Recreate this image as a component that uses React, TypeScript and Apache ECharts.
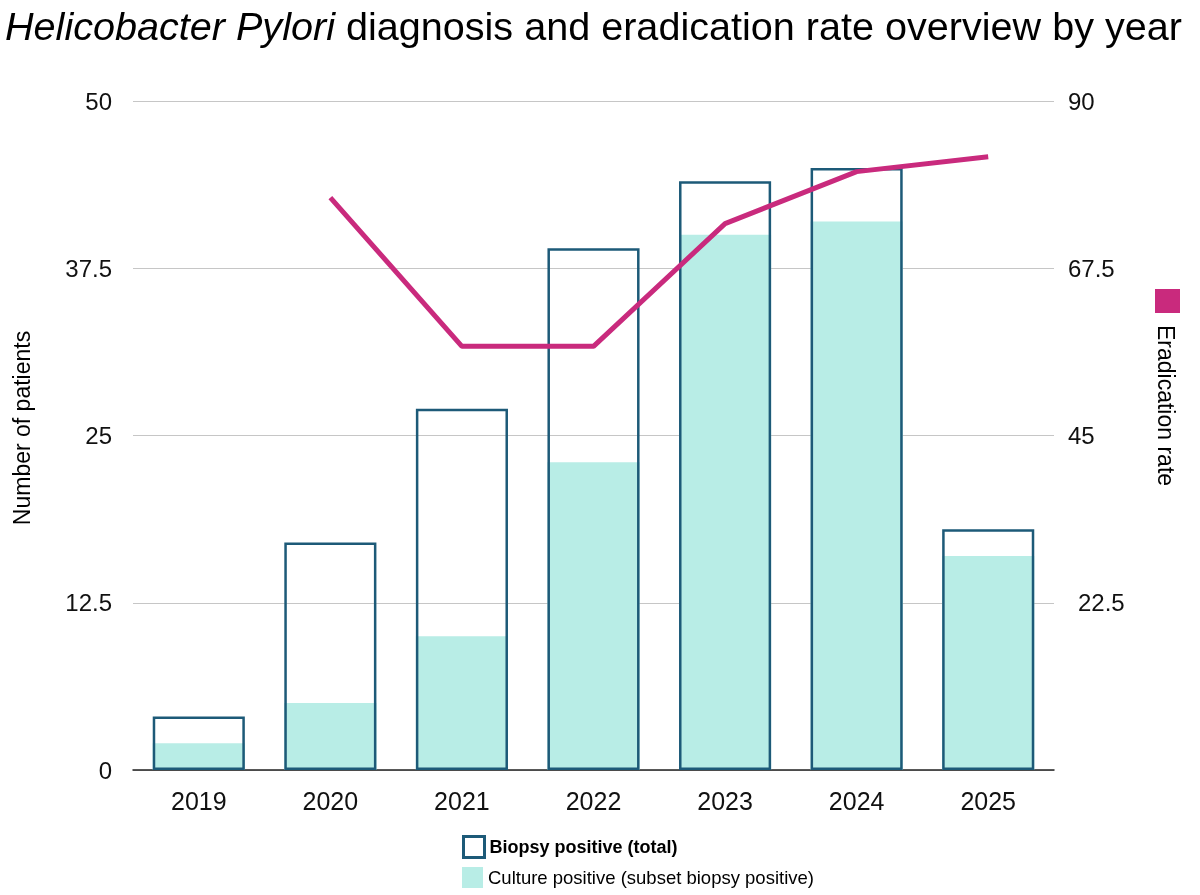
import React, { useEffect, useRef } from "react";
import * as echarts from "echarts";

const years = ["2019", "2020", "2021", "2022", "2023", "2024", "2025"];
const biopsyPositive = [4, 17, 27, 39, 44, 45, 18];
const culturePositive = [2, 5, 10, 23, 40, 41, 16];
const eradicationRate = [null, 77, 57, 57, 73.5, 80.5, 82.5];
const leftTicks = { min: 0, max: 50, interval: 12.5 };
const rightTicks = { min: 0, max: 90, interval: 22.5 };

const FONT = "Liberation Sans";
const TEAL = "#1d5a78";
const FILL = "#b8ede6";
const PINK = "#c92a7d";

export default function App() {
  const ref = useRef<HTMLDivElement>(null);
  useEffect(() => {
    if (!ref.current) return;
    const chart = echarts.init(ref.current, null, { renderer: "svg" });
    chart.setOption({
      animation: false,
      textStyle: { fontFamily: FONT },
      title: {
        text: "{i|Helicobacter Pylori} diagnosis and eradication rate overview by year",
        left: 0,
        top: 1,
        textStyle: {
          fontFamily: FONT,
          fontSize: 39.6,
          fontWeight: "normal",
          color: "#000",
          rich: {
            i: { fontFamily: FONT, fontSize: 39.6, fontStyle: "italic", color: "#000" },
          },
        },
      },
      grid: { left: 133, right: 146, top: 101, bottom: 125 },
      legend: [
        {
          left: 457,
          top: 830,
          itemWidth: 21,
          itemHeight: 21,
          icon: "rect",
          textStyle: { fontFamily: FONT, fontSize: 18, color: "#000", fontWeight: "bold" },
          data: [
            {
              name: "Biopsy positive (total)",
              icon: "rect",
              itemStyle: { color: "#fff", borderColor: TEAL, borderWidth: 3 },
            },
          ],
        },
        {
          left: 457,
          top: 862,
          itemWidth: 21,
          itemHeight: 21,
          icon: "rect",
          textStyle: { fontFamily: FONT, fontSize: 18.5, color: "#000" },
          data: [
            { name: "Culture positive (subset biopsy positive)", icon: "rect", itemStyle: { color: FILL } },
          ],
        },
        {
          left: 1150,
          top: 284,
          itemWidth: 25,
          itemHeight: 24,
          formatter: () => "",
          data: [{ name: "Eradication rate", icon: "rect", itemStyle: { color: PINK } }],
        },
      ],
      graphic: [
        {
          type: "text",
          x: 1166,
          y: 325,
          rotation: -Math.PI / 2,
          style: {
            text: "Eradication rate",
            fontFamily: FONT,
            fontSize: 23,
            fill: "#000",
            textAlign: "left",
            textVerticalAlign: "middle",
          },
        },
        {
          type: "text",
          x: 22,
          y: 428,
          rotation: Math.PI / 2,
          style: {
            text: "Number of patients",
            fontFamily: FONT,
            fontSize: 23,
            fill: "#000",
            textAlign: "center",
            textVerticalAlign: "middle",
          },
        },
      ],
      xAxis: {
        type: "category",
        data: years,
        axisLine: { lineStyle: { color: "#222", width: 1.5 } },
        axisTick: { show: false },
        axisLabel: { fontFamily: FONT, fontSize: 25, color: "#111", margin: 18 },
      },
      yAxis: [
        {
          type: "value",
          ...leftTicks,
          axisLine: { show: false },
          axisTick: { show: false },
          splitLine: { lineStyle: { color: "#c6c6c6", width: 1 } },
          axisLabel: { fontFamily: FONT, fontSize: 24, color: "#111", margin: 21 },
        },
        {
          type: "value",
          ...rightTicks,
          position: "right",
          axisLine: { show: false },
          axisTick: { show: false },
          splitLine: { show: false },
          axisLabel: {
            fontFamily: FONT,
            fontSize: 24,
            color: "#111",
            margin: 14,
            showMinLabel: false,
            formatter: (v: number) => (v === 22.5 ? "{s|22.5}" : String(v)),
            rich: { s: { fontFamily: FONT, fontSize: 24, color: "#111", padding: [0, 0, 0, 10] } },
          },
        },
      ],
      series: [
        {
          name: "Culture positive (subset biopsy positive)",
          type: "bar",
          data: culturePositive,
          barCategoryGap: "30%",
          barGap: "-100%",
          itemStyle: { color: FILL },
          z: 1,
        },
        {
          name: "Biopsy positive (total)",
          type: "bar",
          data: biopsyPositive,
          barCategoryGap: "30%",
          barGap: "-100%",
          itemStyle: { color: "rgba(0,0,0,0)", borderColor: TEAL, borderWidth: 2.5 },
          z: 2,
        },
        {
          name: "Eradication rate",
          type: "line",
          yAxisIndex: 1,
          data: eradicationRate,
          symbol: "none",
          lineStyle: { color: PINK, width: 5 },
          itemStyle: { color: PINK },
          z: 3,
        },
      ],
    });
    return () => chart.dispose();
  }, []);
  return (
    <div
      ref={ref}
      style={{ position: "fixed", left: 0, top: 0, width: 1200, height: 895 }}
    />
  );
}
